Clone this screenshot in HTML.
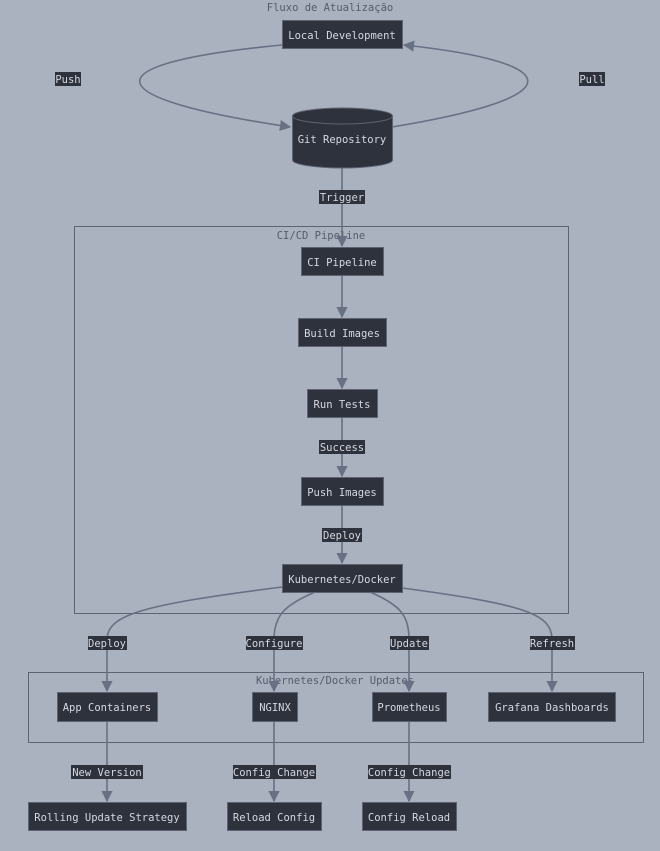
<!DOCTYPE html>
<html><head><meta charset="utf-8"><style>
body{margin:0;background:#aab1bf;}
svg{display:block;font-family:"DejaVu Sans Mono","Liberation Mono",monospace;font-size:10.5px;}
.n{fill:#2e323d;stroke:#5d6373;stroke-width:1;}
.t{fill:#d4d8e0;text-anchor:middle;dominant-baseline:central;transform:translateY(1px);}
.e{fill:none;stroke:#687084;stroke-width:1.6;}
.c{fill:none;stroke:#5d6373;stroke-width:1;}
.ct{fill:#555b6a;text-anchor:middle;dominant-baseline:central;}
.lb{fill:#2e323d;}
</style></head><body>
<svg width="660" height="851" viewBox="0 0 660 851">
<defs><marker id="a" viewBox="0 0 10 10" refX="9" refY="5" markerWidth="7" markerHeight="7" orient="auto-start-reverse"><path d="M0,0L10,5L0,10z" fill="#687084"/></marker></defs>
<rect width="660" height="851" fill="#aab1bf"/>
<text x="330" y="8" class="ct">Fluxo de Atualização</text>
<rect class="c" x="74.5" y="226.5" width="494" height="387"/>
<text x="321" y="236" class="ct">CI/CD Pipeline</text>
<rect class="c" x="28.5" y="672.5" width="615" height="70"/>
<text x="335" y="681" class="ct">Kubernetes/Docker Updates</text>

<path class="e" d="M282,45 C100,62 82,96 290,127" marker-end="url(#a)"/>
<path class="e" d="M392,127 C580,96 562,62 404,45" marker-end="url(#a)"/>
<path class="e" d="M342,168 V246" marker-end="url(#a)"/>
<path class="e" d="M342,275 V317" marker-end="url(#a)"/>
<path class="e" d="M342,346 V388" marker-end="url(#a)"/>
<path class="e" d="M342,417 V476" marker-end="url(#a)"/>
<path class="e" d="M342,505 V563" marker-end="url(#a)"/>
<path class="e" d="M282,587 C140,605 107,615 107,640 V691" marker-end="url(#a)"/>
<path class="e" d="M315,592 C285,605 274,615 274,640 V691" marker-end="url(#a)"/>
<path class="e" d="M370,592 C400,605 409,615 409,640 V691" marker-end="url(#a)"/>
<path class="e" d="M402,588 C530,605 552,615 552,640 V691" marker-end="url(#a)"/>
<path class="e" d="M107,721 V801" marker-end="url(#a)"/>
<path class="e" d="M274,721 V801" marker-end="url(#a)"/>
<path class="e" d="M409,721 V801" marker-end="url(#a)"/>

<rect class="n" x="282.5" y="20.5" width="120" height="28"/><text class="t" x="342" y="35">Local Development</text>
<path class="n" d="M292.5,116 A50,8 0 0 1 392.5,116 V160 A50,8 0 0 1 292.5,160 Z"/>
<path class="n" d="M292.5,116 A50,8 0 0 0 392.5,116" style="fill:none"/>
<text class="t" x="342" y="139">Git Repository</text>
<rect class="n" x="301.5" y="247.5" width="82" height="28"/><text class="t" x="342" y="262">CI Pipeline</text>
<rect class="n" x="298.5" y="318.5" width="88" height="28"/><text class="t" x="342" y="333">Build Images</text>
<rect class="n" x="307.5" y="389.5" width="70" height="28"/><text class="t" x="342" y="404">Run Tests</text>
<rect class="n" x="301.5" y="477.5" width="82" height="28"/><text class="t" x="342" y="492">Push Images</text>
<rect class="n" x="282.5" y="564.5" width="120" height="28"/><text class="t" x="342" y="579">Kubernetes/Docker</text>
<rect class="n" x="57.5" y="692.5" width="100" height="29"/><text class="t" x="107" y="707">App Containers</text>
<rect class="n" x="252.5" y="692.5" width="45" height="29"/><text class="t" x="275" y="707">NGINX</text>
<rect class="n" x="372.5" y="692.5" width="74" height="29"/><text class="t" x="409" y="707">Prometheus</text>
<rect class="n" x="488.5" y="692.5" width="127" height="29"/><text class="t" x="552" y="707">Grafana Dashboards</text>
<rect class="n" x="28.5" y="802.5" width="158" height="28"/><text class="t" x="107" y="817">Rolling Update Strategy</text>
<rect class="n" x="227.5" y="802.5" width="94" height="28"/><text class="t" x="274" y="817">Reload Config</text>
<rect class="n" x="362.5" y="802.5" width="94" height="28"/><text class="t" x="409" y="817">Config Reload</text>

<g>
<rect class="lb" x="55" y="72" width="26" height="14"/><text class="t" x="68" y="79">Push</text>
<rect class="lb" x="579" y="72" width="26" height="14"/><text class="t" x="592" y="79">Pull</text>
<rect class="lb" x="319" y="190" width="46" height="14"/><text class="t" x="342" y="197">Trigger</text>
<rect class="lb" x="319" y="440" width="46" height="14"/><text class="t" x="342" y="447">Success</text>
<rect class="lb" x="322" y="528" width="40" height="14"/><text class="t" x="342" y="535">Deploy</text>
<rect class="lb" x="88" y="636" width="39" height="14"/><text class="t" x="107" y="643">Deploy</text>
<rect class="lb" x="246" y="636" width="57" height="14"/><text class="t" x="274" y="643">Configure</text>
<rect class="lb" x="390" y="636" width="39" height="14"/><text class="t" x="409" y="643">Update</text>
<rect class="lb" x="530" y="636" width="45" height="14"/><text class="t" x="552" y="643">Refresh</text>
<rect class="lb" x="71" y="765" width="72" height="14"/><text class="t" x="107" y="772">New Version</text>
<rect class="lb" x="233" y="765" width="83" height="14"/><text class="t" x="274" y="772">Config Change</text>
<rect class="lb" x="368" y="765" width="83" height="14"/><text class="t" x="409" y="772">Config Change</text>
</g>
</svg>
</body></html>
